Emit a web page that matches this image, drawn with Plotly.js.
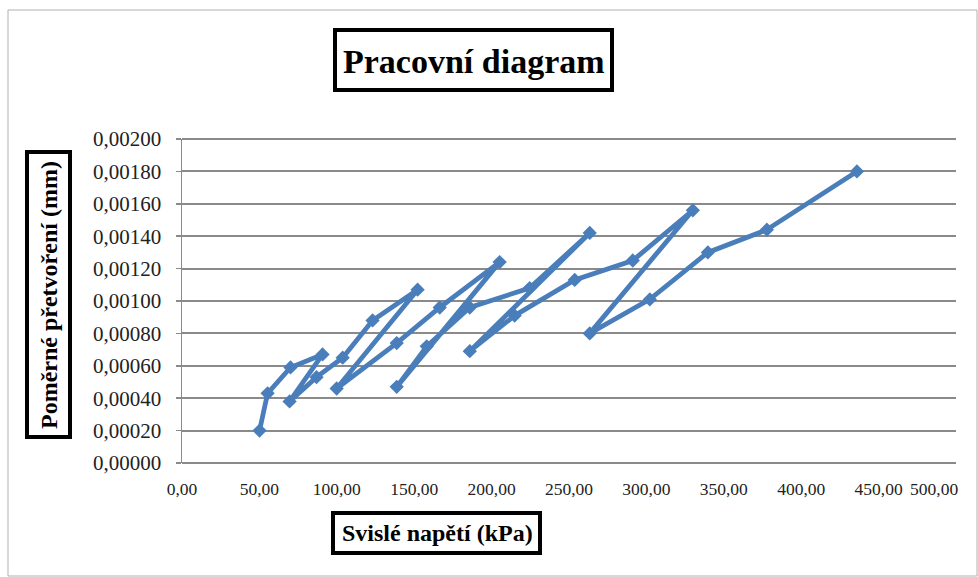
<!DOCTYPE html>
<html>
<head>
<meta charset="utf-8">
<script src="https://cdn.plot.ly/plotly-3.0.1.min.js"></script>
<style>html,body{margin:0;padding:0;background:#fff;}#chart{width:978px;height:577px;}</style>
</head>
<body>
<div id="chart"></div>
<script>
// Svislé napětí (kPa) – v pořadí měření
const stress = [50.1, 55.3, 70.1, 90.8, 69.5, 86.9, 103.8, 123.1, 152.2, 99.9,
                138.7, 166.5, 205.2, 138.7, 158.1, 185.9, 224.6, 263.4, 185.9, 214.9,
                253.7, 291.2, 330.0, 263.4, 302.2, 339.7, 377.8, 436.0];
// Poměrné přetvoření
const strain = [0.00020, 0.00043, 0.00059, 0.00067, 0.00038, 0.00053, 0.00065, 0.00088, 0.00107, 0.00046,
                0.00074, 0.00096, 0.00124, 0.00047, 0.00072, 0.00096, 0.00108, 0.00142, 0.00069, 0.00091,
                0.00113, 0.00125, 0.00156, 0.00080, 0.00101, 0.00130, 0.00144, 0.00180];
// x tick values (the last one is kept inside the chart like Excel does)
const xTicks = [0, 50, 100, 150, 200, 250, 300, 350, 400, 450];
const xLastTick = 500;
const chartTitle = 'Pracovní diagram';
const xTitle = 'Svislé napětí (kPa)';
const yTitle = 'Poměrné přetvoření (mm)';

const W = 978, H = 577, L = 182, R = 22, T = 139, B = 114;
const pw = W - L - R, ph = H - T - B;
const px = v => (v - L) / pw;
const py = v => (H - B - v) / ph;

const blue = '#4A7EBB';
const serif = '"Liberation Serif"';
const fmt2 = v => v.toFixed(2).replace('.', ',');

const trace = {
  x: stress, y: strain, type: 'scatter', mode: 'lines+markers',
  line: {color: blue, width: 4.8},
  marker: {symbol: 'diamond', size: 11, color: blue},
  hoverinfo: 'x+y'
};

function box(x0, y0, x1, y1, w) {
  return {type: 'rect', xref: 'paper', yref: 'paper',
    x0: px(x0), x1: px(x1), y0: py(y1), y1: py(y0),
    line: {color: '#000', width: w}, fillcolor: '#fff', layer: 'above'};
}

const layout = {
  width: W, height: H,
  margin: {l: L, r: R, t: T, b: B, pad: 0},
  paper_bgcolor: '#fff', plot_bgcolor: '#fff',
  separators: ', ',
  showlegend: false,
  font: {family: serif, color: '#222'},
  xaxis: {
    range: [0, 500], tickvals: xTicks, ticktext: xTicks.map(fmt2),
    showgrid: false, zeroline: false,
    showline: false, ticks: '',
    tickfont: {family: serif, size: 17.5, color: '#222'},
    ticklabelstandoff: 13
  },
  yaxis: {
    range: [0, 0.002], dtick: 0.0002, tick0: 0, tickformat: '.5f',
    showgrid: true, gridcolor: '#8a8a8a', gridwidth: 2,
    zeroline: false,
    showline: true, linecolor: '#8a8a8a', linewidth: 1.5,
    ticks: 'outside', ticklen: 5, tickcolor: '#8a8a8a', tickwidth: 1.5,
    tickfont: {family: serif, size: 21, color: '#222'},
    ticklabelstandoff: 10
  },
  shapes: [
    {type: 'rect', xref: 'paper', yref: 'paper', x0: px(8), x1: px(977), y0: py(576), y1: py(10),
     line: {color: '#b0b0b0', width: 1}, fillcolor: 'rgba(0,0,0,0)', layer: 'below'},
    {type: 'line', xref: 'paper', yref: 'paper', x0: 0, x1: 1, y0: 0, y1: 0,
     line: {color: '#8a8a8a', width: 2}, layer: 'below'},
    {type: 'line', xref: 'paper', yref: 'paper', x0: 0, x1: 1, y0: 1, y1: 1,
     line: {color: '#8a8a8a', width: 2}, layer: 'below'},
    box(335, 30, 612, 90, 4),
    box(27, 152, 70, 437, 4),
    box(333, 513, 540, 553, 4)
  ],
  annotations: [
    {text: fmt2(xLastTick), xref: 'paper', yref: 'paper', x: px(960), y: py(477),
     xanchor: 'right', yanchor: 'top', showarrow: false,
     font: {family: serif, size: 17.5, color: '#222'}},
    {text: '<b>' + chartTitle + '</b>', xref: 'paper', yref: 'paper', x: px(474), y: py(61),
     xanchor: 'center', yanchor: 'middle', showarrow: false,
     font: {family: serif, size: 34, color: '#000'}},
    {text: '<b>' + yTitle + '</b>', xref: 'paper', yref: 'paper', x: px(49), y: py(295),
     xanchor: 'center', yanchor: 'middle', showarrow: false, textangle: -90,
     font: {family: serif, size: 24, color: '#000'}},
    {text: '<b>' + xTitle + '</b>', xref: 'paper', yref: 'paper', x: px(437), y: py(533),
     xanchor: 'center', yanchor: 'middle', showarrow: false,
     font: {family: serif, size: 24, color: '#000'}}
  ]
};

Plotly.newPlot('chart', [trace], layout, {displayModeBar: false, staticPlot: true});
</script>
</body>
</html>
